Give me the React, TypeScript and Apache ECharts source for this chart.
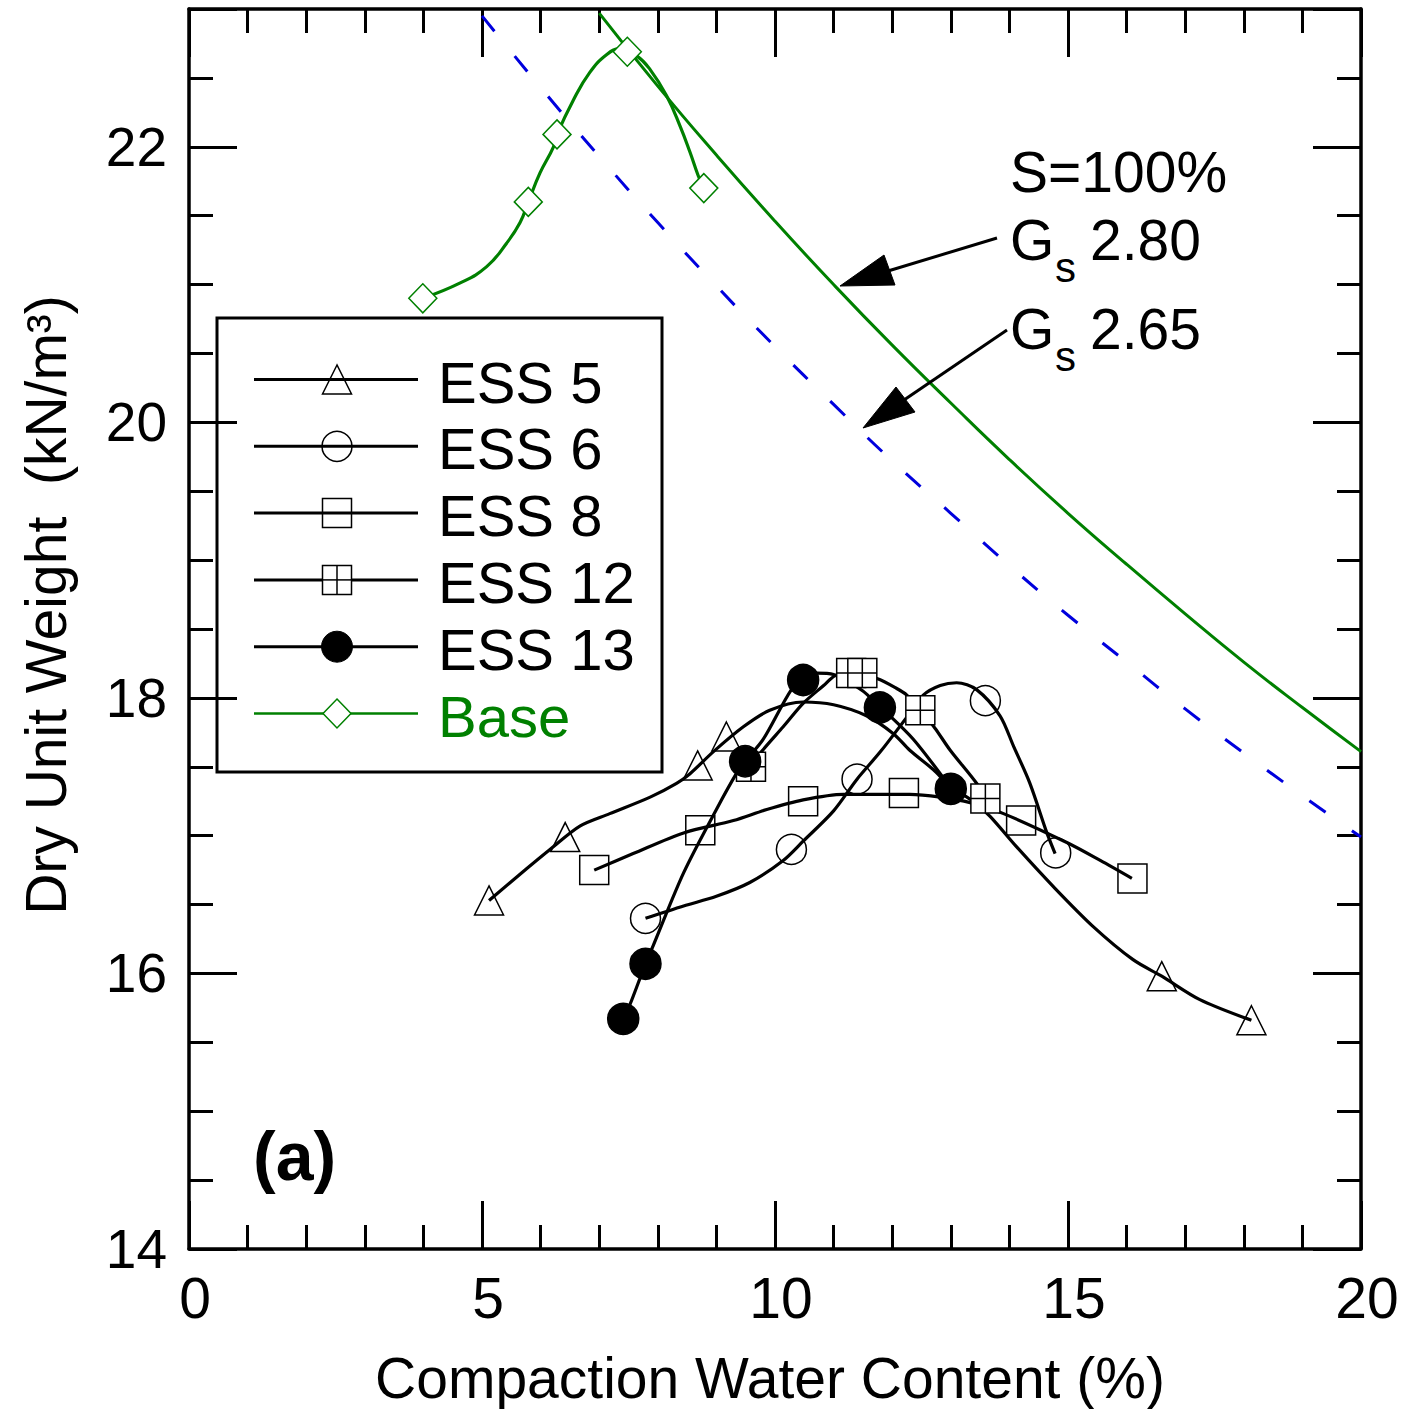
import React, { useEffect, useRef } from "react";
import * as echarts from "echarts";

const FONT = '"Liberation Sans", Arial, Helvetica, sans-serif';
const GREEN = "#008000";
const BLUE = "#0000dd";

// ---- measured markers (water content %, dry unit weight kN/m3) ----
const ess5Points = [[5.12, 16.53], [6.42, 16.99], [8.68, 17.51], [9.17, 17.72], [16.6, 15.98], [18.13, 15.66]];
const ess6Points = [[7.79, 16.4], [10.28, 16.9], [11.4, 17.41], [13.59, 17.98], [14.79, 16.875]];
const ess8Points = [[6.915, 16.75], [8.725, 17.04], [10.48, 17.25], [12.2, 17.31], [14.2, 17.11], [16.1, 16.69]];
const ess12Points = [[9.59, 17.5], [11.3, 18.18], [11.49, 18.18], [12.48, 17.91], [13.59, 17.27]];
const ess13Points = [[7.41, 15.67], [7.79, 16.07], [9.49, 17.54], [10.48, 18.13], [11.79, 17.93], [13.0, 17.34]];
const basePoints = [[3.99, 20.9], [5.79, 21.6], [6.28, 22.09], [7.48, 22.69], [8.785, 21.7]];

// ---- fitted curves ----
const ess5Curve = [[5.12, 16.53], [5.76, 16.76], [6.16, 16.9], [6.67, 17.07], [7.18, 17.16], [7.87, 17.28], [8.32, 17.38], [8.55, 17.45], [8.95, 17.61], [9.46, 17.79], [9.91, 17.91], [10.48, 17.97], [11.0, 17.95], [11.56, 17.87], [12.02, 17.74], [12.3, 17.62], [12.7, 17.48], [12.99, 17.36], [13.38, 17.25], [13.67, 17.14], [14.12, 16.92], [14.75, 16.63], [15.43, 16.34], [16.11, 16.1], [16.6, 15.98], [17.25, 15.81], [18.13, 15.66]];
const ess6Curve = [[7.79, 16.4], [8.44, 16.49], [9.0, 16.56], [9.57, 16.66], [10.14, 16.82], [10.48, 16.96], [11.0, 17.18], [11.4, 17.41], [11.8, 17.61], [12.25, 17.86], [12.53, 18.02], [12.82, 18.09], [13.1, 18.11], [13.44, 18.06], [13.84, 17.87], [14.07, 17.65], [14.35, 17.38], [14.64, 17.02], [14.78, 16.87]];
const ess8Curve = [[6.915, 16.75], [7.58, 16.87], [8.44, 17.02], [9.29, 17.11], [9.86, 17.19], [10.48, 17.26], [11.17, 17.3], [12.3, 17.3], [12.82, 17.28], [13.33, 17.24], [13.9, 17.16], [14.98, 16.95], [15.55, 16.82], [16.09, 16.69]];
const ess12Curve = [[9.59, 17.5], [9.77, 17.61], [10.14, 17.79], [10.48, 17.96], [10.83, 18.09], [11.02, 18.16], [11.3, 18.19], [11.74, 18.14], [12.07, 18.07], [12.25, 18.02], [12.48, 17.91], [12.73, 17.78], [12.99, 17.62], [13.44, 17.38], [13.59, 17.27]];
const ess13Curve = [[7.41, 15.67], [7.53, 15.78], [7.79, 16.07], [7.92, 16.2], [8.44, 16.73], [9.0, 17.19], [9.34, 17.45], [9.49, 17.54], [9.8, 17.7], [10.28, 18.06], [10.48, 18.13], [10.71, 18.18], [11.0, 18.17], [11.5, 18.05], [11.79, 17.93], [11.96, 17.87], [12.36, 17.7], [12.82, 17.45], [13.0, 17.34]];
const baseCurve = [[3.99, 20.9], [4.62, 21.01], [5.08, 21.13], [5.42, 21.3], [5.65, 21.45], [5.79, 21.6], [5.99, 21.81], [6.22, 22.0], [6.28, 22.09], [6.56, 22.34], [6.84, 22.54], [7.13, 22.67], [7.35, 22.71], [7.64, 22.66], [7.87, 22.56], [8.15, 22.37], [8.38, 22.15], [8.55, 21.96], [8.69, 21.79], [8.785, 21.7]];

// ---- zero-air-voids lines (S = 100%) ----
const sat280 = [[7, 22.97], [8, 22.44], [9, 21.94], [10, 21.46], [11, 21.0], [12, 20.56], [13, 20.14], [14, 19.73], [15, 19.34], [16, 18.97], [17, 18.61], [18, 18.26], [19, 17.93], [20, 17.61]];
const sat265 = [[5, 22.95], [6, 22.43], [7, 21.93], [8, 21.45], [9, 20.99], [10, 20.55], [11, 20.13], [12, 19.72], [13, 19.34], [14, 18.96], [15, 18.6], [16, 18.26], [17, 17.92], [18, 17.6], [19, 17.29], [20, 16.99]];

const legendNames = ["ESS 5", "ESS 6", "ESS 8", "ESS 12", "ESS 13", "Base"];
const xTitle = "Compaction Water Content (%)";
const yTitle = "Dry Unit Weight  (kN/m\u00B3)";

const axisLineStyle = { color: "#000", width: 3.5 };
const tickStyle = { color: "#000", width: 3 };

function xAxisDef(position: string, showLabel: boolean) {
  return {
    type: "value",
    min: 0,
    max: 20,
    interval: 5,
    position,
    axisLine: { show: true, onZero: false, lineStyle: axisLineStyle },
    axisTick: { show: true, inside: true, length: 48, lineStyle: tickStyle },
    minorTick: { show: true, splitNumber: 5, length: 24, lineStyle: tickStyle },
    splitLine: { show: false },
    minorSplitLine: { show: false },
    axisLabel: {
      show: showLabel,
      fontSize: 57,
      fontFamily: FONT,
      color: "#000",
      margin: 20,
      padding: [0, 0, 0, 12],
    },
  };
}

function yAxisDef(position: string, interval: number, tickLen: number, showLabel: boolean, showLine: boolean) {
  return {
    type: "value",
    min: 14,
    max: 23,
    interval,
    position,
    axisLine: { show: showLine, onZero: false, lineStyle: axisLineStyle },
    axisTick: { show: true, inside: true, length: tickLen, lineStyle: tickStyle },
    splitLine: { show: false },
    axisLabel: {
      show: showLabel,
      fontSize: 55,
      fontFamily: FONT,
      color: "#000",
      margin: 22,
      padding: [20, 0, 0, 0],
      formatter: (v: number) => (v % 2 === 0 ? String(v) : ""),
    },
  };
}

function curveSeries(data: number[][], color: string, width: number, smooth = 0.3) {
  return {
    type: "line",
    data,
    smooth,
    symbol: "none",
    silent: true,
    lineStyle: { color, width },
    z: 2,
  };
}

function markerSeries(data: number[][], symbol: string, size: any, fill: string, stroke: string) {
  return {
    type: "scatter",
    data,
    symbol,
    symbolSize: size,
    silent: true,
    itemStyle: { color: fill, borderColor: stroke, borderWidth: 1.5, opacity: 1 },
    z: 3,
  };
}

const GRID_SYMBOL = "path://M0,0 L30,0 L30,30 L0,30 Z M15,0 L15,30 M0,15 L30,15";

function buildLegend() {
  const rowsY = [379.5, 446.3, 513.1, 579.9, 646.7, 713.5];
  const cx = 337;
  const children: any[] = [
    {
      type: "rect",
      shape: { x: 217, y: 318, width: 445, height: 454 },
      style: { fill: "#fff", stroke: "#000", lineWidth: 3 },
    },
  ];
  legendNames.forEach((name, i) => {
    const y = rowsY[i];
    const col = i === 5 ? GREEN : "#000";
    children.push({
      type: "line",
      shape: { x1: 254, y1: y, x2: 418, y2: y },
      style: { stroke: col, lineWidth: i === 5 ? 2.5 : 3 },
    });
    const h = 14.5;
    if (i === 0) {
      children.push({
        type: "polygon",
        shape: { points: [[cx, y - h], [cx - h, y + h], [cx + h, y + h]] },
        style: { fill: "none", stroke: "#000", lineWidth: 1.5 },
      });
    } else if (i === 1) {
      children.push({ type: "circle", shape: { cx, cy: y, r: 15 }, style: { fill: "none", stroke: "#000", lineWidth: 1.5 } });
    } else if (i === 2) {
      children.push({ type: "rect", shape: { x: cx - h, y: y - h, width: 29, height: 29 }, style: { fill: "none", stroke: "#000", lineWidth: 1.5 } });
    } else if (i === 3) {
      children.push({ type: "rect", shape: { x: cx - h, y: y - h, width: 29, height: 29 }, style: { fill: "#fff", stroke: "#000", lineWidth: 1.5 } });
      children.push({ type: "line", shape: { x1: cx, y1: y - h, x2: cx, y2: y + h }, style: { stroke: "#000", lineWidth: 1.5 } });
      children.push({ type: "line", shape: { x1: cx - h, y1: y, x2: cx + h, y2: y }, style: { stroke: "#000", lineWidth: 1.5 } });
    } else if (i === 4) {
      children.push({ type: "circle", shape: { cx, cy: y, r: 15.5 }, style: { fill: "#000", stroke: "#000", lineWidth: 1 } });
    } else {
      children.push({
        type: "polygon",
        shape: { points: [[cx, y - 14.5], [cx + 14, y], [cx, y + 14.5], [cx - 14, y]] },
        style: { fill: "#fff", stroke: GREEN, lineWidth: 1.5 },
      });
    }
    children.push({
      type: "text",
      x: 438,
      y: y + 2.5,
      style: { text: name, fontSize: 58, fontFamily: FONT, fill: col, align: "left", verticalAlign: "middle" },
    });
  });
  return { type: "group", z: 100, children };
}

function buildAnnotations() {
  const t = (text: string, x: number, y: number, size: number, extra: any = {}) => ({
    type: "text",
    x,
    y,
    z: 100,
    style: { text, fontSize: size, fontFamily: FONT, fill: "#000", align: "left", verticalAlign: "middle", ...extra },
  });
  return [
    t("S=100%", 1010, 172, 57),
    t("G", 1010, 240, 57),
    t("s", 1055, 267, 42),
    t("2.80", 1090, 240, 57),
    t("G", 1010, 329, 57),
    t("s", 1055, 356, 42),
    t("2.65", 1090, 329, 57),
    { type: "line", z: 100, shape: { x1: 997, y1: 238, x2: 888, y2: 271 }, style: { stroke: "#000", lineWidth: 3 } },
    { type: "polygon", z: 100, shape: { points: [[840, 286], [884, 255], [895, 285]] }, style: { fill: "#000", stroke: "#000", lineWidth: 1 } },
    { type: "line", z: 100, shape: { x1: 1007, y1: 330, x2: 904, y2: 400 }, style: { stroke: "#000", lineWidth: 3 } },
    { type: "polygon", z: 100, shape: { points: [[863, 428], [896, 387], [915, 412]] }, style: { fill: "#000", stroke: "#000", lineWidth: 1 } },
    t("(a)", 253, 1156, 68, { fontWeight: "bold" }),
    {
      type: "text",
      x: 770,
      y: 1378,
      z: 100,
      style: { text: xTitle, fontSize: 57, fontFamily: FONT, fill: "#000", align: "center", verticalAlign: "middle" },
    },
    {
      type: "text",
      x: 46,
      y: 605,
      rotation: Math.PI / 2,
      z: 100,
      style: { text: yTitle, fontSize: 57, fontFamily: FONT, fill: "#000", align: "center", verticalAlign: "middle" },
    },
  ];
}

export default function App() {
  const ref = useRef<HTMLDivElement>(null);
  useEffect(() => {
    if (!ref.current) return;
    const chart = echarts.init(ref.current, null, { renderer: "svg" });
    const option: any = {
      animation: false,
      backgroundColor: "#fff",
      grid: { left: 189, top: 9, width: 1172, height: 1240, containLabel: false },
      xAxis: [xAxisDef("bottom", true), xAxisDef("top", false)],
      yAxis: [
        yAxisDef("left", 2, 48, true, true),
        yAxisDef("left", 0.5, 24, false, false),
        yAxisDef("right", 2, 48, false, true),
        yAxisDef("right", 0.5, 24, false, false),
      ],
      series: [
        {
          type: "line",
          data: sat265,
          smooth: true,
          symbol: "none",
          silent: true,
          lineStyle: { color: BLUE, width: 3, type: [20, 32] },
          z: 1,
        },
        { type: "line", data: sat280, smooth: true, symbol: "none", silent: true, lineStyle: { color: GREEN, width: 3 }, z: 1 },
        curveSeries(ess5Curve, "#000", 3.2),
        curveSeries(ess6Curve, "#000", 3.2),
        curveSeries(ess8Curve, "#000", 3.2),
        curveSeries(ess12Curve, "#000", 3.2),
        curveSeries(ess13Curve, "#000", 3.2),
        curveSeries(baseCurve, GREEN, 3.2, 0.45),
        markerSeries(ess5Points, "triangle", [29, 29], "rgba(0,0,0,0)", "#000"),
        markerSeries(ess6Points, "circle", 30, "rgba(0,0,0,0)", "#000"),
        markerSeries(ess8Points, "rect", 29, "rgba(0,0,0,0)", "#000"),
        markerSeries(ess12Points, GRID_SYMBOL, 29, "#fff", "#000"),
        markerSeries(ess13Points, "circle", 31, "#000", "#000"),
        markerSeries(basePoints, "diamond", [28, 29], "#fff", GREEN),
      ],
      graphic: [buildLegend(), ...buildAnnotations()],
    };
    chart.setOption(option);
    return () => chart.dispose();
  }, []);
  return (
    <div
      ref={ref}
      style={{ position: "absolute", left: 0, top: 0, width: 1402, height: 1409, background: "#fff" }}
    />
  );
}
